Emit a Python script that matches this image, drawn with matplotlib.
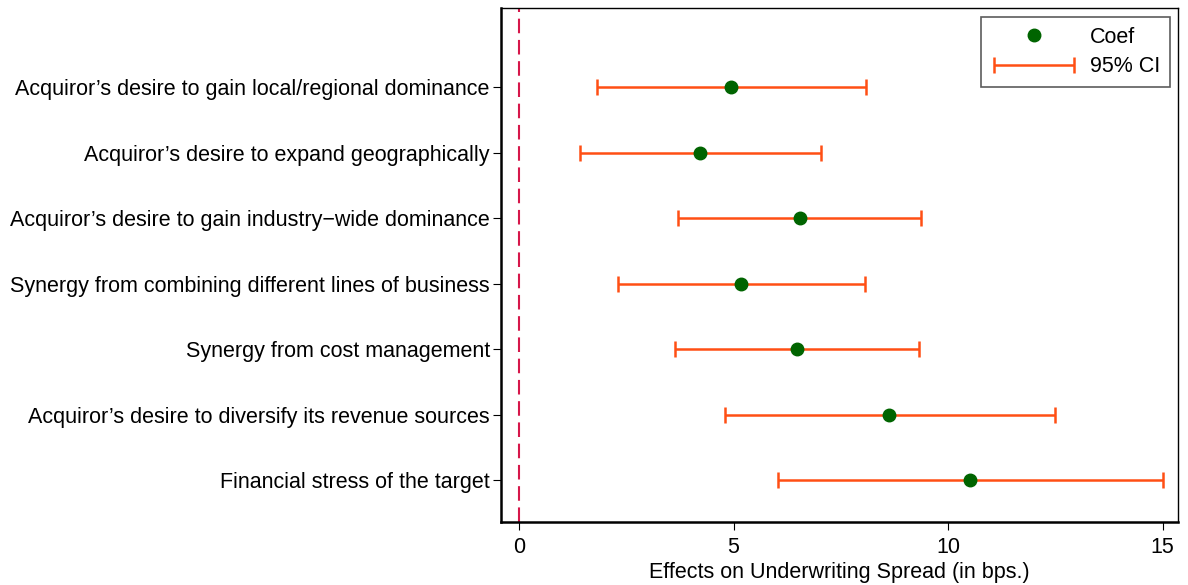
import numpy as np
import matplotlib
matplotlib.use("Agg")
import matplotlib.pyplot as plt
from matplotlib.legend_handler import HandlerErrorbar
from matplotlib.container import ErrorbarContainer

plt.rcParams['font.family'] = ['Liberation Sans', 'DejaVu Sans']

labels = [
    "Acquiror’s desire to gain local/regional dominance",
    "Acquiror’s desire to expand geographically",
    "Acquiror’s desire to gain industry\u2212wide dominance",
    "Synergy from combining different lines of business",
    "Synergy from cost management",
    "Acquiror’s desire to diversify its revenue sources",
    "Financial stress of the target",
]
coefs = [4.95, 4.23, 6.54, 5.17, 6.48, 8.63, 10.52]
ciLow = [1.82, 1.42, 3.70, 2.30, 3.64, 4.79, 6.03]
ciHigh = [8.09, 7.05, 9.37, 8.06, 9.33, 12.49, 15.00]

coefColor = '#006400'
ciColor = '#FF4F14'
fontSize = 15.5

fig = plt.figure(figsize=(11.88, 5.85), dpi=100)
ax = fig.add_axes([0.4217, 0.1077, 0.9916 - 0.4217, 0.9863 - 0.1077])

yPositions = np.arange(1, len(labels) + 1)
coefArr = np.array(coefs)
lowErr = coefArr - np.array(ciLow)
highErr = np.array(ciHigh) - coefArr

ax.axvline(0, color='#D6174A', linestyle=(0, (7, 3.2)), linewidth=1.5, zorder=1)

ciBars = ax.errorbar(coefArr, yPositions, xerr=[lowErr, highErr], fmt='none',
                     ecolor=ciColor, elinewidth=1.8, capsize=6, capthick=1.8,
                     label='95% CI', zorder=2)
coefDots, = ax.plot(coefArr, yPositions, 'o', color=coefColor, markersize=9,
                    linestyle='none', label='Coef', zorder=3)

ax.set_yticks(yPositions)
ax.set_yticklabels(labels, fontsize=fontSize)
ax.set_ylim(7.64, -0.21)
ax.set_xlim(-0.42, 15.36)
ax.set_xticks([0, 5, 10, 15])
ax.tick_params(axis='x', labelsize=fontSize, length=6, direction='out', pad=5)
ax.tick_params(axis='y', length=6, direction='out', pad=2)
ax.set_xlabel('Effects on Underwriting Spread (in bps.)', fontsize=fontSize, labelpad=3)

for side in ['left', 'bottom']:
    ax.spines[side].set_linewidth(1.8)
for side in ['top', 'right']:
    ax.spines[side].set_linewidth(1.0)

leg = ax.legend([coefDots, ciBars], ['Coef', '95% CI'],
                handler_map={ErrorbarContainer: HandlerErrorbar(xerr_size=1.85)},
                loc='upper right', fontsize=fontSize, frameon=True, fancybox=False,
                edgecolor='#333333', borderpad=0.45, handlelength=4.0,
                handletextpad=0.6, labelspacing=0.4, borderaxespad=0,
                bbox_to_anchor=(0.988, 0.9825))
leg.get_frame().set_linewidth(1.2)

fig.savefig('out.png', dpi=100)
